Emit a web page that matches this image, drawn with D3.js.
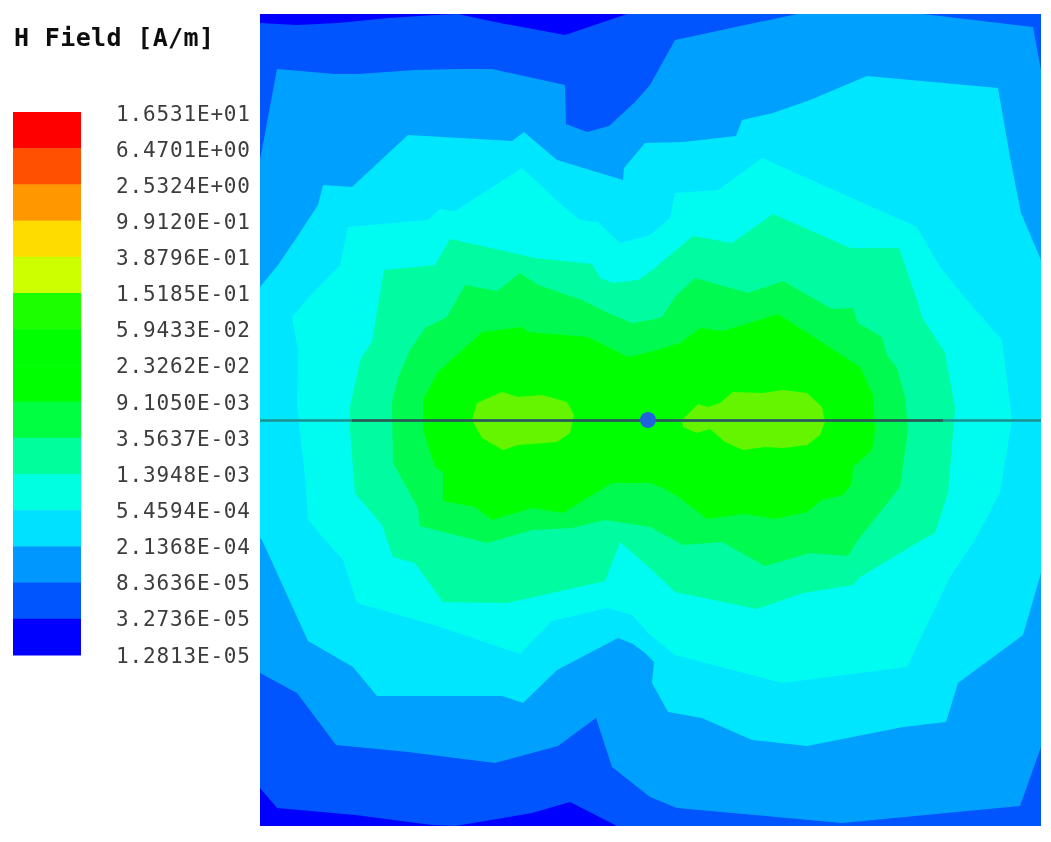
<!DOCTYPE html>
<html>
<head>
<meta charset="utf-8">
<script src="https://cdnjs.cloudflare.com/ajax/libs/d3/7.8.5/d3.min.js"></script>
<style>
  html, body { margin: 0; padding: 0; background: #fff; }
  svg { display: block; }
  text { font-family: "DejaVu Sans Mono", monospace; }
</style>
</head>
<body>
<svg id="chart" width="1051" height="842"></svg>
<script>
const legendLabels = ['1.6531E+01', '6.4701E+00', '2.5324E+00', '9.9120E-01', '3.8796E-01', '1.5185E-01',
  '5.9433E-02', '2.3262E-02', '9.1050E-03', '3.5637E-03', '1.3948E-03', '5.4594E-04',
  '2.1368E-04', '8.3636E-05', '3.2736E-05', '1.2813E-05']
const legendColors = ['#ff0000', '#ff5000', '#ff9800', '#ffdc00', '#ccff00', '#1cff00', '#00ff00', '#00ff00',
  '#00ff40', '#00ff9c', '#00ffe0', '#00e0ff', '#0098ff', '#0054ff', '#0000ff']

// field plane extents and wire, in mm from the centre of the plane
const planeX = [-390, 391]
const planeY = [-406, 406]
const wireX = [-298, 293]
const feedPoint = [-2, 0]

// contour outlines, lowest level first
const contourBlue = [[-390,-397],[-353,-395],[-312,-397],[-262,-402],[-215,-405],[-192,-406],[-155,-398],[-85,-385],[-23,-406],[391,-406],[391,406],[-33,406],[-80,382],[-118,393],[-195,406],[-218,405],[-295,395],[-373,388],[-390,368]]
const contourSky = [[-390,-260],[-373,-351],[-315,-346],[-292,-346],[-235,-350],[-192,-351],[-158,-351],[-85,-335],[-84,-296],[-63,-288],[-41,-294],[-15,-318],[0,-335],[25,-380],[147,-406],[273,-406],[383,-393],[391,-350],[391,327],[370,386],[192,403],[27,388],[0,377],[-38,347],[-54,298],[-92,326],[-155,343],[-242,332],[-314,325],[-353,273],[-390,253]]
const contourCyan = [[-390,-133],[-372,-155],[-357,-177],[-332,-215],[-327,-235],[-298,-233],[-242,-285],[-138,-279],[-126,-288],[-93,-260],[-27,-240],[-26,-252],[-5,-277],[33,-278],[86,-284],[92,-300],[123,-307],[160,-320],[217,-344],[348,-332],[360,-263],[371,-207],[391,-160],[391,153],[373,215],[308,263],[296,302],[253,307],[157,326],[102,320],[52,298],[18,292],[2,263],[4,242],[-5,233],[-17,224],[-32,218],[-93,250],[-127,283],[-148,276],[-242,276],[-273,276],[-297,247],[-342,221],[-388,120],[-390,118]]
const contourAqua = [[-342,-122],[-310,-155],[-302,-193],[-222,-200],[-210,-211],[-195,-209],[-128,-252],[-88,-215],[-70,-200],[-52,-198],[-30,-177],[0,-185],[20,-202],[25,-227],[68,-230],[112,-262],[267,-193],[290,-153],[317,-120],[352,-80],[362,0],[350,73],[325,120],[300,157],[257,247],[132,263],[25,235],[0,215],[-18,195],[-43,188],[-98,201],[-130,234],[-213,206],[-293,183],[-307,140],[-325,120],[-342,100],[-345,57],[-353,-13],[-352,-70],[-358,-103]]
const contourMint = [[-271,-120],[-266,-150],[-215,-155],[-200,-181],[-115,-162],[-58,-156],[-50,-142],[-37,-137],[-12,-140],[0,-148],[43,-184],[82,-177],[123,-206],[200,-172],[249,-172],[267,-120],[272,-103],[295,-67],[305,-12],[298,73],[285,113],[272,120],[210,157],[203,165],[153,173],[107,189],[25,172],[0,148],[-30,122],[-45,161],[-143,183],[-207,182],[-235,143],[-257,137],[-268,105],[-295,73],[-300,10],[-300,-13],[-289,-62],[-278,-78]]
const contourSpring = [[-185,-135],[-153,-129],[-130,-147],[-112,-135],[-68,-120],[-42,-107],[-18,-97],[0,-100],[12,-103],[25,-123],[45,-142],[98,-127],[133,-139],[182,-111],[203,-112],[208,-97],[232,-83],[237,-65],[247,-52],[255,-23],[258,10],[250,67],[208,120],[198,136],[160,133],[115,146],[72,122],[33,125],[0,107],[-45,100],[-78,108],[-118,110],[-163,123],[-230,106],[-232,88],[-257,43],[-258,-17],[-252,-42],[-240,-70],[-225,-92],[-203,-103]]
const contourGreen = [[-168,-88],[-128,-93],[-122,-88],[-62,-83],[-22,-63],[0,-68],[30,-77],[50,-92],[73,-89],[128,-106],[210,-53],[223,-25],[225,10],[222,30],[203,47],[202,63],[193,75],[172,80],[157,92],[125,99],[95,94],[57,99],[30,78],[13,68],[0,63],[-38,63],[-87,93],[-118,88],[-158,100],[-175,87],[-207,81],[-207,52],[-215,47],[-227,10],[-227,-20],[-213,-47]]
const contourLimeLeft = [[-148,-28],[-132,-23],[-108,-25],[-83,-18],[-76,-5],[-80,13],[-93,22],[-132,25],[-147,30],[-168,18],[-178,0],[-173,-17]]
const contourLimeRight = [[83,-28],[112,-27],[133,-30],[157,-27],[172,-13],[175,2],[170,15],[157,25],[133,28],[115,27],[93,30],[75,22],[60,9],[47,13],[33,7],[32,0],[48,-16],[58,-13],[70,-17]]

const contours = [contourBlue, contourSky, contourCyan, contourAqua, contourMint, contourSpring, contourGreen, contourLimeLeft, contourLimeRight]
const contourColors = ['#0054ff', '#00a0ff', '#00e6ff', '#00fbf0', '#00fba0', '#00fa50', '#00ff00', '#66f500', '#66f500']

const svg = d3.select('#chart')
const defs = svg.append('defs')
defs.append('filter').attr('id', 'soft')
  .append('feGaussianBlur').attr('stdDeviation', 0.6)
defs.append('clipPath').attr('id', 'plane-clip')
  .append('rect').attr('x', 260).attr('y', 14).attr('width', 781).attr('height', 812)

const x = d3.scaleLinear().domain(planeX).range([260, 1041])
const y = d3.scaleLinear().domain(planeY).range([14, 826])
const outline = d3.line().x(d => x(d[0])).y(d => y(d[1])).curve(d3.curveLinearClosed)

const plane = svg.append('g').attr('clip-path', 'url(#plane-clip)')
  .append('g').attr('filter', 'url(#soft)')

plane.append('rect')
  .attr('x', x(planeX[0])).attr('y', y(planeY[0]))
  .attr('width', x(planeX[1]) - x(planeX[0]))
  .attr('height', y(planeY[1]) - y(planeY[0]))
  .attr('fill', '#0000ff')

plane.selectAll('path.band')
  .data(contours)
  .enter().append('path')
  .attr('class', 'band')
  .attr('d', outline)
  .attr('fill', (d, i) => contourColors[i])

// wire: faint across the plane, darker along the conductor
plane.append('line')
  .attr('x1', x(planeX[0])).attr('x2', x(planeX[1]))
  .attr('y1', y(0) + 0.5).attr('y2', y(0) + 0.5)
  .attr('stroke', '#1f8f8f').attr('stroke-width', 2.5)
plane.append('line')
  .attr('x1', x(wireX[0])).attr('x2', x(wireX[1]))
  .attr('y1', y(0) + 0.5).attr('y2', y(0) + 0.5)
  .attr('stroke', '#2c5a50').attr('stroke-width', 2.5)
plane.append('circle')
  .attr('cx', x(feedPoint[0])).attr('cy', y(feedPoint[1]))
  .attr('r', 8)
  .attr('fill', '#2464dc')

// legend
const legendY = d3.scaleBand().domain(legendColors.map((c, i) => i)).range([112, 655])
const labelY = d3.scalePoint().domain(legendLabels).range([113, 655])

const legend = svg.append('g').attr('filter', 'url(#soft)')

legend.selectAll('rect')
  .data(legendColors)
  .enter().append('rect')
  .attr('x', 13)
  .attr('y', (d, i) => legendY(i))
  .attr('width', 68)
  .attr('height', legendY.bandwidth() + 0.5)
  .attr('fill', d => d)

legend.selectAll('text.tick')
  .data(legendLabels)
  .enter().append('text')
  .attr('class', 'tick')
  .attr('x', 116)
  .attr('y', d => labelY(d))
  .attr('dy', '0.36em')
  .attr('font-size', 21)
  .attr('textLength', 134)
  .attr('fill', '#3c3c3c')
  .text(d => d)

legend.append('text')
  .attr('x', 14)
  .attr('y', 46)
  .attr('font-size', 25)
  .attr('font-weight', 'bold')
  .attr('textLength', 200)
  .attr('fill', '#111')
  .text('H Field [A/m]')
</script>
</body>
</html>
